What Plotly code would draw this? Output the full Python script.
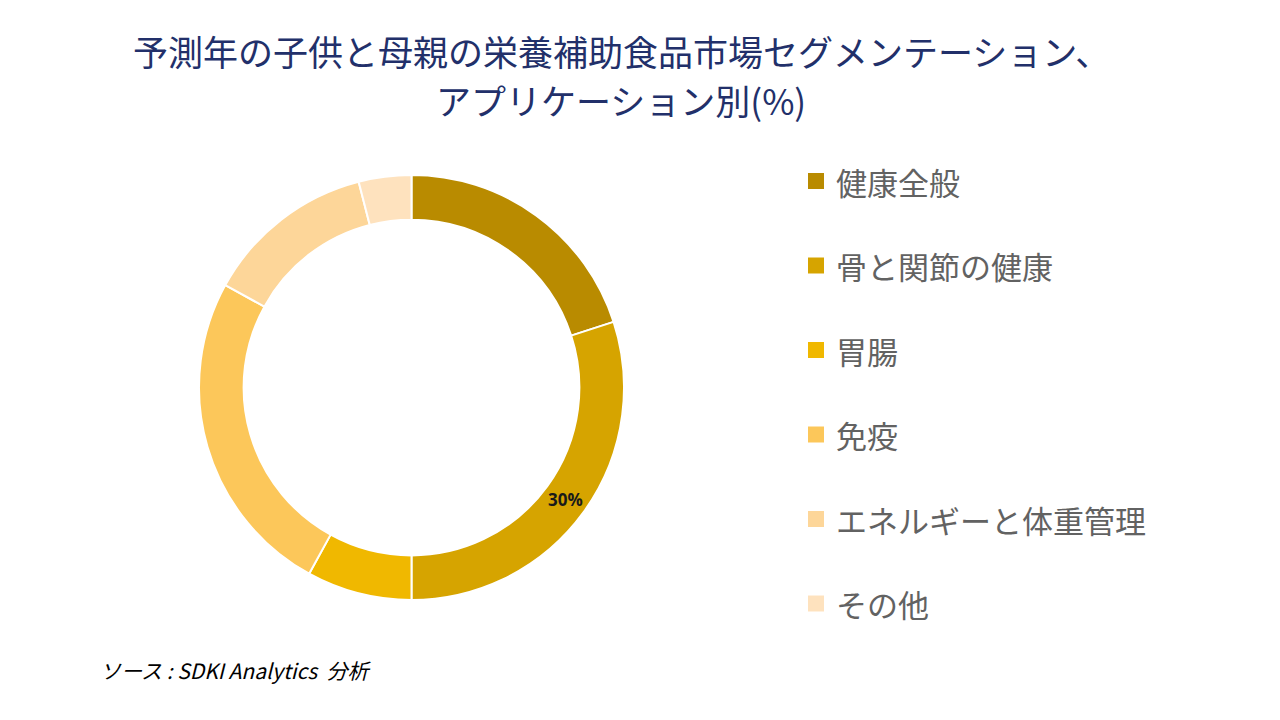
import plotly.graph_objects as go

labels = ["健康全般", "骨と関節の健康", "胃腸", "免疫", "エネルギーと体重管理", "その他"]
values = [20, 30, 8, 25, 13, 4]
colors = ["#B98B00", "#D6A400", "#F0B800", "#FCC75A", "#FDD699", "#FEE2BE"]
shown_label = [False, True, False, False, False, False]

title_lines = ["予測年の子供と母親の栄養補助食品市場セグメンテーション、", "アプリケーション別(%)"]
source_text = "ソース : SDKI Analytics  分析"

W, H = 1280, 720
OFF = 8  # page body margin offset
cx, cy, r = 411.5 - OFF, 387.5 - OFF, 212.5

def px_x(x):
    return (x - OFF) / W

def px_y(y):
    return 1 - (y - OFF) / H

fig = go.Figure()
fig.add_trace(go.Pie(
    labels=labels,
    values=values,
    marker=dict(colors=colors, line=dict(color="white", width=2)),
    hole=0.79,
    sort=False,
    direction="clockwise",
    rotation=0,
    texttemplate=["<b>%{value}%</b>" if s else "" for s in shown_label],
    textposition="inside",
    insidetextorientation="horizontal",
    textfont=dict(family="Open Sans, Noto Sans", size=17, color="#1a1a1a"),
    showlegend=False,
    hoverinfo="label+value",
    domain=dict(x=[(cx - r) / W, (cx + r) / W],
                y=[(H - cy - r) / H, (H - cy + r) / H]),
))

# manual legend
leg_x0 = 808
leg_y0 = 181
leg_dy = 84.5
shapes = []
annotations = []
for i, (lab, col) in enumerate(zip(labels, colors)):
    yc = leg_y0 + i * leg_dy
    shapes.append(dict(type="rect", xref="paper", yref="paper",
                       x0=px_x(leg_x0), x1=px_x(leg_x0 + 16),
                       y0=px_y(yc + 8), y1=px_y(yc - 8),
                       fillcolor=col, line=dict(width=0)))
    annotations.append(dict(text=lab, xref="paper", yref="paper",
                            x=px_x(834), y=px_y(yc), xanchor="left", yanchor="middle",
                            showarrow=False,
                            font=dict(family="Noto Sans CJK JP", size=31, color="#626262")))

for txt, yy in zip(title_lines, [50, 99]):
    annotations.append(dict(text=txt, xref="paper", yref="paper",
                            x=px_x(621), y=px_y(yy), xanchor="center", yanchor="middle",
                            showarrow=False, align="center",
                            font=dict(family="Noto Sans CJK JP", size=35, color="#22306A")))
annotations.append(dict(text="<i>" + source_text + "</i>", xref="paper", yref="paper",
                        x=px_x(98), y=px_y(670), xanchor="left", yanchor="middle",
                        showarrow=False,
                        font=dict(family="Noto Sans CJK JP", size=21, color="#000000")))

fig.update_layout(
    width=W, height=H,
    margin=dict(l=0, r=0, t=0, b=0),
    paper_bgcolor="white",
    plot_bgcolor="white",
    shapes=shapes,
    annotations=annotations,
)

fig.write_html("out.html")
